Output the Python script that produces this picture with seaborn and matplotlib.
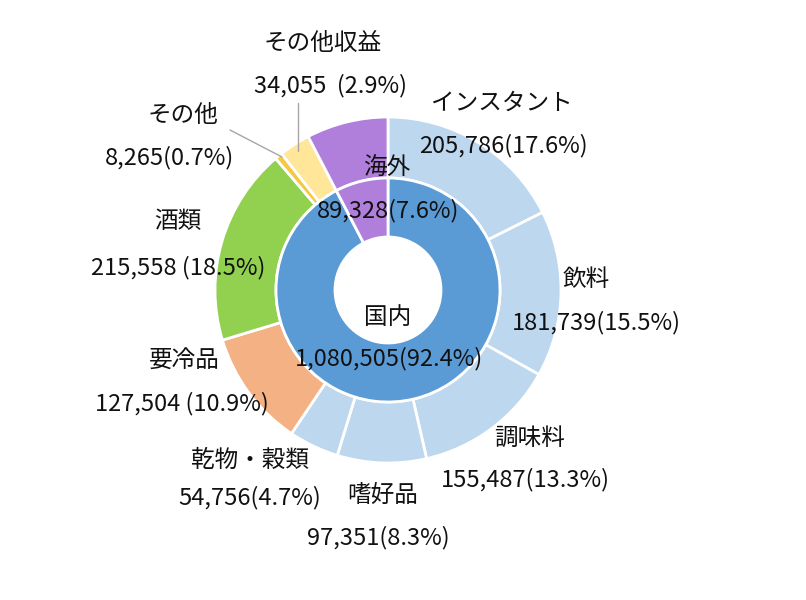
import matplotlib
matplotlib.use("Agg")
import matplotlib.pyplot as plt
import seaborn as sns

sns.set_theme(style="white")
plt.rcParams['font.family'] = ['Noto Sans CJK JP', 'DejaVu Sans']

# ---- data ----
inner_labels = ["国内", "海外"]
inner_values = [1080505, 89328]
inner_texts = ["1,080,505(92.4%)", "89,328(7.6%)"]

outer_labels = ["インスタント", "飲料", "調味料", "嗜好品", "乾物・穀類",
                "要冷品", "酒類", "その他", "その他収益", "海外"]
outer_values = [205786, 181739, 155487, 97351, 54756,
                127504, 215558, 8265, 34055, 89328]
outer_texts = ["205,786(17.6%)", "181,739(15.5%)", "155,487(13.3%)",
               "97,351(8.3%)", "54,756(4.7%)", "127,504 (10.9%)",
               "215,558 (18.5%)", "8,265(0.7%)", "34,055  (2.9%)", ""]

inner_colors = ["#5b9bd5", "#b07fdb"]
outer_colors = ["#bdd7ee"] * 5 + ["#f4b183", "#92d050", "#f5c842", "#ffe699", "#b07fdb"]

W, H = 806, 600
fig = plt.figure(figsize=(W / 100, H / 100), dpi=100)
ax = fig.add_axes([0, 0, 1, 1])
ax.set_xlim(0, W)
ax.set_ylim(0, H)
ax.set_aspect("equal")
ax.axis("off")

cx, cy = 388, H - 290
R_out, R_mid, R_in = 173, 112, 53

ax.pie(outer_values, colors=outer_colors, startangle=90, counterclock=False,
       radius=R_out, center=(cx, cy), frame=True,
       wedgeprops=dict(width=R_out - R_mid, edgecolor="white", linewidth=2))
ax.pie(inner_values, colors=inner_colors, startangle=90, counterclock=False,
       radius=R_mid, center=(cx, cy), frame=True,
       wedgeprops=dict(width=R_mid - R_in, edgecolor="white", linewidth=2))
ax.set_xlim(0, W)
ax.set_ylim(0, H)
ax.axis("off")

fs = 17

def T(x, y, s):
    ax.text(x, H - y, s, ha="center", va="center", fontsize=fs, color="#111111")

# outer labels (name, value) pixel positions
name_pos = {
    "インスタント": (502, 103), "飲料": (586, 279), "調味料": (530, 438),
    "嗜好品": (383, 495), "乾物・穀類": (250, 460), "要冷品": (184, 361),
    "酒類": (178, 222), "その他": (183, 116), "その他収益": (323, 43),
}
val_pos = {
    "インスタント": (503, 146), "飲料": (596, 323), "調味料": (525, 480),
    "嗜好品": (378, 538), "乾物・穀類": (250, 498), "要冷品": (182, 404),
    "酒類": (178, 268), "その他": (170, 158), "その他収益": (330, 86),
}
for lab, txt in zip(outer_labels, outer_texts):
    if lab in name_pos:
        T(*name_pos[lab], lab)
        T(*val_pos[lab], txt)

# inner labels
T(387, 168, inner_labels[1])
T(388, 211, inner_texts[1])
T(388, 317, inner_labels[0])
T(389, 359, inner_texts[0])

# leader lines
ax.plot([230, 282], [H - 130, H - 157], color="#a6a6a6", lw=1)
ax.plot([298, 298], [H - 103, H - 151], color="#a6a6a6", lw=1)

fig.savefig("out.png", dpi=100, facecolor="white")
